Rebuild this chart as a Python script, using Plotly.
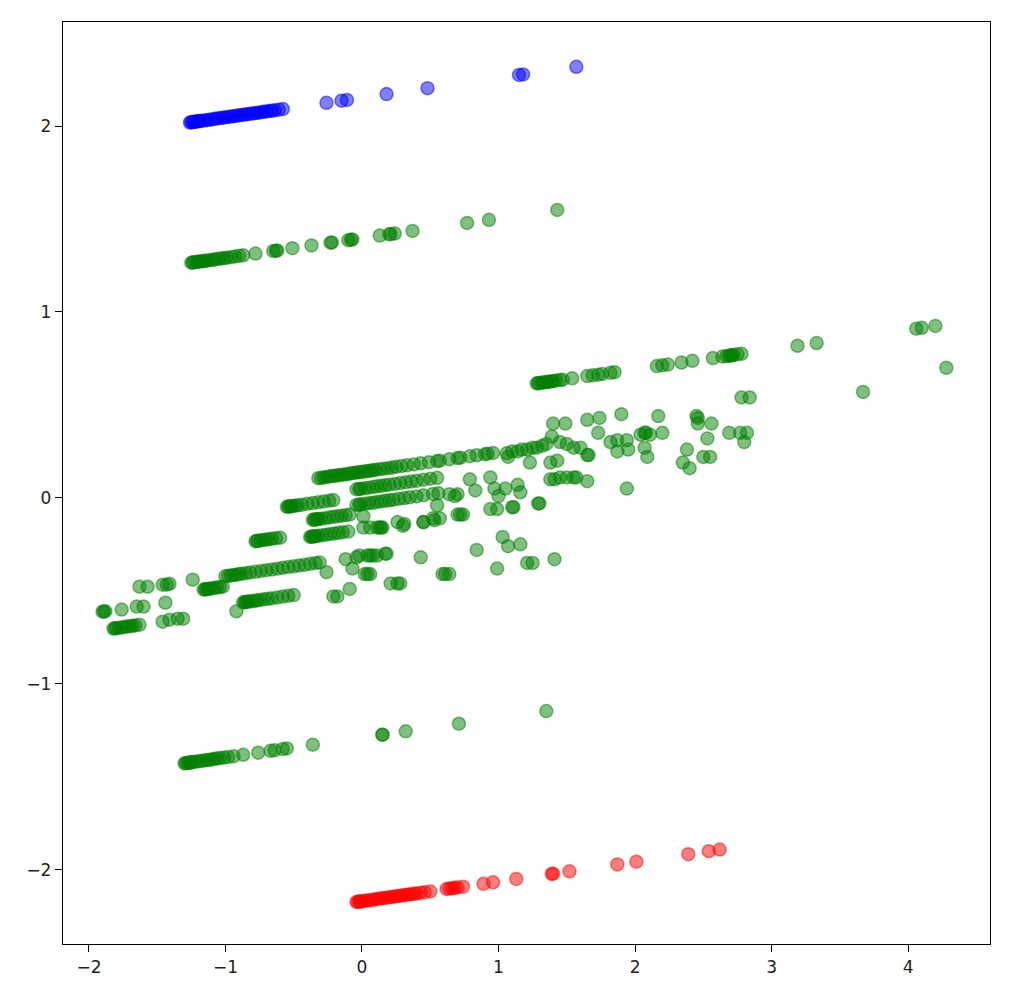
import plotly.graph_objects as go

# ---------------- data ----------------
x_ticks = [-2, -1, 0, 1, 2, 3, 4]
y_ticks = [-2, -1, 0, 1, 2]

blue_x = [-1.26, -1.25, -1.24, -1.23, -1.22, -1.21, -1.20, -1.19, -1.18,
          -1.16, -1.14, -1.12, -1.10, -1.08, -1.06, -1.04, -1.02, -1.00, -0.98,
          -0.96, -0.94, -0.92, -0.90, -0.88, -0.86, -0.84, -0.82, -0.80, -0.78,
          -0.76, -0.74, -0.72, -0.70, -0.68, -0.66, -0.64, -0.61, -0.58,
          -0.26, -0.15, -0.11, 0.18, 0.48, 1.15, 1.18, 1.57]
blue_y = [2.019, 2.021, 2.022, 2.023, 2.024, 2.025, 2.026, 2.027, 2.028,
          2.030, 2.032, 2.034, 2.036, 2.039, 2.041, 2.043, 2.045, 2.047, 2.049,
          2.051, 2.053, 2.055, 2.058, 2.060, 2.062, 2.064, 2.066, 2.068, 2.070,
          2.072, 2.075, 2.077, 2.079, 2.081, 2.083, 2.085, 2.088, 2.092,
          2.125, 2.137, 2.141, 2.172, 2.204, 2.275, 2.278, 2.319]

red_x = [-0.04, -0.03, -0.02, -0.01, 0.0, 0.02, 0.04, 0.06, 0.08, 0.10, 0.12,
         0.14, 0.16, 0.18, 0.20, 0.22, 0.24, 0.26, 0.28, 0.30, 0.32, 0.34, 0.36,
         0.38, 0.40, 0.43, 0.46, 0.50, 0.62, 0.64, 0.66, 0.68, 0.70, 0.74, 0.89,
         0.96, 1.13, 1.39, 1.40, 1.52, 1.87, 2.01, 2.39, 2.54, 2.62]
red_y = [-2.174, -2.173, -2.172, -2.171, -2.170, -2.168, -2.166, -2.164, -2.162,
         -2.159, -2.157, -2.155, -2.153, -2.151, -2.149, -2.147, -2.145, -2.142,
         -2.140, -2.138, -2.136, -2.134, -2.132, -2.130, -2.128, -2.124, -2.121,
         -2.117, -2.104, -2.102, -2.100, -2.098, -2.096, -2.092, -2.076, -2.068,
         -2.050, -2.023, -2.022, -2.009, -1.972, -1.957, -1.917, -1.901, -1.892]

green_upper_x = [-1.25, -1.24, -1.23, -1.21, -1.20, -1.19, -1.17, -1.16, -1.15,
                 -1.13, -1.11, -1.09, -1.07, -1.05, -1.03, -1.01, -0.99, -0.96,
                 -0.93, -0.90, -0.87, -0.78, -0.65, -0.63, -0.62, -0.51, -0.37,
                 -0.23, -0.22, -0.10, -0.08, -0.07, 0.13, 0.20, 0.21, 0.24, 0.37,
                 0.77, 0.93, 1.43]
green_upper_y = [1.265, 1.266, 1.267, 1.269, 1.270, 1.271, 1.273, 1.274, 1.275,
                 1.277, 1.279, 1.281, 1.284, 1.286, 1.288, 1.290, 1.292, 1.295,
                 1.298, 1.302, 1.305, 1.314, 1.328, 1.330, 1.331, 1.343, 1.358,
                 1.373, 1.374, 1.386, 1.389, 1.390, 1.411, 1.418, 1.419, 1.422, 1.436,
                 1.479, 1.496, 1.549]

green_lower_x = [-1.30, -1.29, -1.28, -1.27, -1.26, -1.25, -1.24, -1.22, -1.20,
                 -1.18, -1.16, -1.14, -1.12, -1.10, -1.08, -1.06, -1.04, -1.01,
                 -0.98, -0.94, -0.87, -0.76, -0.67, -0.64, -0.58, -0.55, -0.36,
                 0.15, 0.15, 0.32, 0.71, 1.35]
green_lower_y = [-1.428, -1.427, -1.426, -1.425, -1.424, -1.423, -1.421, -1.419,
                 -1.417, -1.415, -1.413, -1.411, -1.409, -1.407, -1.404, -1.402,
                 -1.400, -1.397, -1.394, -1.390, -1.382, -1.371, -1.361, -1.358,
                 -1.351, -1.348, -1.328, -1.274, -1.274, -1.256, -1.215, -1.147]

# middle green cloud, as (x, y) pairs grouped by visible streak
green_streak_high = [
    (1.28, 0.616), (1.29, 0.617), (1.30, 0.618), (1.32, 0.620), (1.33, 0.621),
    (1.35, 0.623), (1.36, 0.624), (1.37, 0.625), (1.39, 0.627), (1.40, 0.628),
    (1.42, 0.631), (1.45, 0.634), (1.47, 0.636), (1.54, 0.643), (1.65, 0.655),
    (1.69, 0.659), (1.73, 0.663), (1.76, 0.667), (1.82, 0.673), (1.85, 0.676),
    (2.16, 0.709), (2.20, 0.713), (2.24, 0.717), (2.34, 0.728), (2.42, 0.737),
    (2.57, 0.752), (2.64, 0.760), (2.67, 0.763), (2.69, 0.765), (2.70, 0.766),
    (2.71, 0.767), (2.72, 0.768), (2.75, 0.772), (2.78, 0.775), (3.19, 0.818),
    (3.33, 0.833), (4.06, 0.910), (4.10, 0.915), (4.20, 0.925)]

green_right_scatter = [
    (4.28, 0.70), (3.67, 0.57), (2.78, 0.54), (2.84, 0.54),
    (1.40, 0.40), (1.49, 0.40), (1.65, 0.42), (1.74, 0.43), (1.90, 0.45),
    (2.17, 0.44), (2.45, 0.44), (2.46, 0.43), (2.46, 0.40), (2.56, 0.40),
    (2.53, 0.32), (2.69, 0.35), (2.77, 0.35), (2.82, 0.35), (2.80, 0.30),
    (1.73, 0.35), (1.39, 0.33), (1.45, 0.30), (1.50, 0.29), (1.55, 0.27),
    (1.60, 0.27), (1.65, 0.23), (1.66, 0.23), (1.82, 0.30), (1.87, 0.31),
    (1.94, 0.31), (1.87, 0.25), (1.95, 0.26), (2.04, 0.34), (2.07, 0.35),
    (2.08, 0.35), (2.11, 0.34), (2.20, 0.35), (2.07, 0.27), (2.09, 0.22),
    (2.38, 0.26), (2.35, 0.19), (2.40, 0.16), (2.50, 0.22), (2.55, 0.22),
    (1.38, 0.10), (1.41, 0.10), (1.45, 0.11), (1.50, 0.11), (1.55, 0.11),
    (1.57, 0.11), (1.65, 0.09), (1.94, 0.05)]

green_mid_scatter = [
    (1.06, 0.24), (1.10, 0.25), (1.14, 0.25), (1.17, 0.26), (1.21, 0.26),
    (1.25, 0.27), (1.28, 0.27), (1.32, 0.28), (1.35, 0.29),
    (1.07, 0.22), (1.23, 0.19), (1.38, 0.19), (1.43, 0.20),
    (0.79, 0.10), (0.83, 0.04), (0.94, 0.11), (0.97, 0.05), (1.00, 0.01),
    (1.05, 0.05), (1.14, 0.07), (1.16, 0.03),
    (1.29, -0.03), (1.30, -0.03), (1.10, -0.05), (1.11, -0.05), (0.94, -0.06),
    (0.99, -0.06), (0.70, -0.09), (0.72, -0.09), (0.74, -0.09),
    (0.55, -0.04), (0.68, 0.01), (0.70, 0.02), (0.52, -0.11), (0.57, -0.11),
    (0.45, -0.13), (0.53, -0.12), (0.30, -0.15), (0.31, -0.14), (0.13, -0.16),
    (0.14, -0.16), (0.17, -0.30), (0.43, -0.32), (0.84, -0.28), (1.03, -0.21),
    (1.07, -0.26), (1.16, -0.25), (0.99, -0.38), (1.21, -0.35), (1.25, -0.35),
    (1.41, -0.33), (0.59, -0.41), (0.61, -0.41), (0.64, -0.41), (0.21, -0.46),
    (0.26, -0.46), (0.28, -0.46)]

green_streak_a = [
    (-0.32, 0.106), (-0.30, 0.108), (-0.28, 0.110), (-0.26, 0.112), (-0.24, 0.115),
    (-0.22, 0.117), (-0.20, 0.119), (-0.18, 0.121), (-0.16, 0.123), (-0.14, 0.125),
    (-0.12, 0.127), (-0.10, 0.129), (-0.08, 0.132), (-0.06, 0.134), (-0.04, 0.136),
    (-0.02, 0.138), (0.00, 0.140), (0.02, 0.142), (0.04, 0.144), (0.06, 0.146),
    (0.08, 0.148), (0.10, 0.151), (0.13, 0.154), (0.16, 0.157), (0.19, 0.160),
    (0.22, 0.163), (0.25, 0.167), (0.29, 0.171), (0.33, 0.175), (0.38, 0.180),
    (0.43, 0.186), (0.49, 0.192), (0.55, 0.198), (0.57, 0.200), (0.64, 0.208),
    (0.70, 0.214), (0.72, 0.216), (0.79, 0.224), (0.84, 0.229), (0.90, 0.235),
    (0.92, 0.238), (0.96, 0.242)]

green_streak_b = [
    (-0.04, 0.046), (-0.02, 0.048), (-0.01, 0.049), (0.02, 0.052), (0.05, 0.055),
    (0.08, 0.058), (0.11, 0.062), (0.14, 0.065), (0.17, 0.068), (0.20, 0.071),
    (0.24, 0.075), (0.28, 0.080), (0.32, 0.084), (0.36, 0.088), (0.40, 0.092),
    (0.45, 0.098), (0.50, 0.103), (0.55, 0.108),
    (-0.04, -0.038), (-0.02, -0.036), (-0.01, -0.035), (0.02, -0.032),
    (0.05, -0.029), (0.08, -0.026), (0.11, -0.022), (0.14, -0.019),
    (0.17, -0.016), (0.20, -0.013), (0.23, -0.010), (0.27, -0.005),
    (0.31, -0.001), (0.35, 0.003), (0.40, 0.008), (0.45, 0.014), (0.52, 0.021),
    (0.56, 0.025)]

green_streak_c = [
    (-0.55, -0.048), (-0.54, -0.047), (-0.53, -0.046), (-0.52, -0.045),
    (-0.51, -0.044), (-0.49, -0.042), (-0.47, -0.040), (-0.44, -0.037),
    (-0.40, -0.032), (-0.36, -0.028), (-0.32, -0.024), (-0.28, -0.020),
    (-0.24, -0.015), (-0.21, -0.012),
    (-0.36, -0.118), (-0.35, -0.117), (-0.34, -0.116), (-0.33, -0.115),
    (-0.32, -0.114), (-0.30, -0.112), (-0.27, -0.109), (-0.24, -0.105),
    (-0.21, -0.102), (-0.18, -0.099), (-0.15, -0.096), (-0.12, -0.093),
    (-0.09, -0.090),
    (-0.38, -0.210), (-0.37, -0.209), (-0.36, -0.208), (-0.35, -0.207),
    (-0.34, -0.206), (-0.32, -0.204), (-0.29, -0.201), (-0.26, -0.198),
    (-0.23, -0.194), (-0.20, -0.191), (-0.17, -0.188), (-0.14, -0.185),
    (-0.10, -0.181),
    (-0.78, -0.233), (-0.77, -0.232), (-0.76, -0.231), (-0.74, -0.228),
    (-0.72, -0.226), (-0.70, -0.224), (-0.68, -0.222), (-0.66, -0.220),
    (-0.63, -0.217), (-0.60, -0.214)]

green_center_scatter = [
    (-0.12, -0.33), (-0.04, -0.32), (-0.02, -0.31), (0.04, -0.31), (0.06, -0.31),
    (0.08, -0.31), (0.11, -0.31), (0.18, -0.30), (-0.07, -0.38), (0.02, -0.41),
    (0.04, -0.41), (0.06, -0.41), (-0.09, -0.49), (-0.21, -0.53), (-0.18, -0.53),
    (-0.26, -0.40), (0.01, -0.16), (0.06, -0.16), (0.11, -0.16), (0.15, -0.16),
    (0.01, -0.10), (0.26, -0.13), (0.64, 0.02), (0.45, -0.13)]

green_streak_d = [
    (-1.16, -0.493), (-1.15, -0.492), (-1.14, -0.491), (-1.13, -0.490),
    (-1.12, -0.489), (-1.10, -0.487), (-1.08, -0.484), (-1.06, -0.482),
    (-1.04, -0.480), (-1.02, -0.478),
    (-1.00, -0.421), (-0.98, -0.419), (-0.96, -0.417), (-0.94, -0.415),
    (-0.92, -0.413), (-0.90, -0.410), (-0.88, -0.408), (-0.85, -0.405),
    (-0.82, -0.402), (-0.78, -0.398), (-0.74, -0.393), (-0.70, -0.389),
    (-0.66, -0.385), (-0.62, -0.381), (-0.58, -0.376), (-0.54, -0.372),
    (-0.50, -0.368), (-0.46, -0.364), (-0.42, -0.360), (-0.38, -0.355),
    (-0.34, -0.351), (-0.31, -0.348),
    (-0.87, -0.562), (-0.86, -0.561), (-0.85, -0.560), (-0.84, -0.559),
    (-0.83, -0.558), (-0.81, -0.556), (-0.79, -0.554), (-0.77, -0.552),
    (-0.75, -0.550), (-0.72, -0.546), (-0.69, -0.543), (-0.66, -0.540),
    (-0.62, -0.536), (-0.58, -0.531), (-0.54, -0.527), (-0.50, -0.523),
    (-0.92, -0.61), (-1.24, -0.44)]

green_left = [
    (-1.90, -0.612), (-1.89, -0.611), (-1.88, -0.610), (-1.76, -0.601),
    (-1.65, -0.585), (-1.60, -0.585), (-1.63, -0.478), (-1.57, -0.478),
    (-1.46, -0.467), (-1.43, -0.467), (-1.41, -0.462), (-1.44, -0.564),
    (-1.82, -0.703), (-1.81, -0.702), (-1.80, -0.701), (-1.78, -0.699),
    (-1.76, -0.697), (-1.74, -0.694), (-1.72, -0.692), (-1.70, -0.690),
    (-1.68, -0.688), (-1.66, -0.686), (-1.63, -0.683),
    (-1.46, -0.666), (-1.41, -0.655), (-1.35, -0.650), (-1.31, -0.650)]

green_groups = [green_streak_high, green_right_scatter, green_mid_scatter,
                green_streak_a, green_streak_b, green_streak_c,
                green_center_scatter, green_streak_d, green_left]

green_x = list(green_upper_x) + list(green_lower_x)
green_y = list(green_upper_y) + list(green_lower_y)
for grp in green_groups:
    green_x += [p[0] for p in grp]
    green_y += [p[1] for p in grp]

# ---------------- figure ----------------
def marker(r, g, b):
    c = f"rgba({r},{g},{b},0.5)"
    return dict(size=13, color=c, line=dict(color=c, width=1.5))

fig = go.Figure()
fig.add_trace(go.Scatter(x=blue_x, y=blue_y, mode="markers", marker=marker(0, 0, 255),
                         hoverinfo="skip"))
fig.add_trace(go.Scatter(x=green_x, y=green_y, mode="markers", marker=marker(0, 128, 0),
                         hoverinfo="skip"))
fig.add_trace(go.Scatter(x=red_x, y=red_y, mode="markers", marker=marker(255, 0, 0),
                         hoverinfo="skip"))

axis_style = dict(showline=True, mirror=True, linecolor="black", linewidth=1.3,
                  ticks="outside", ticklen=7, tickwidth=1.3, tickcolor="black",
                  showgrid=False, zeroline=False,
                  tickfont=dict(family="DejaVu Sans", size=17, color="#222"))

fig.update_layout(
    width=1029, height=1000,
    margin=dict(l=63, r=39, t=22, b=56),
    plot_bgcolor="white", paper_bgcolor="white",
    showlegend=False,
    xaxis=dict(range=[-2.19, 4.60], tickvals=x_ticks, **axis_style),
    yaxis=dict(range=[-2.40, 2.56], tickvals=y_ticks, **axis_style),
)

fig.write_html("out.html",
               config={"displayModeBar": False},
               post_script="document.body.style.margin='0';document.body.style.overflow='hidden';")
